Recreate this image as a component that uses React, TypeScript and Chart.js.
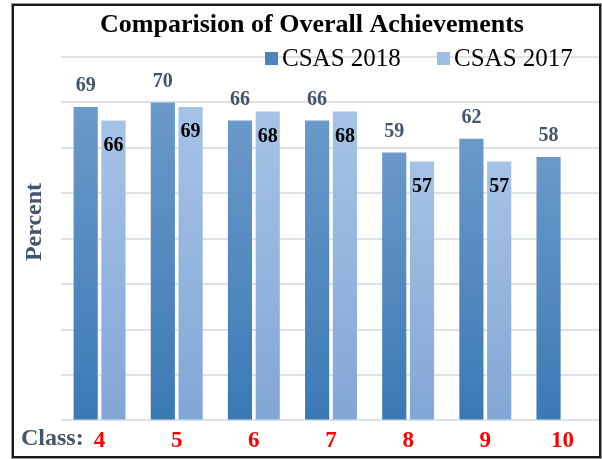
import React, { useEffect, useRef } from "react";
import { Chart, registerables } from "chart.js";

Chart.register(...registerables);

const categories = ["4", "5", "6", "7", "8", "9", "10"];
const csas2018 = [69, 70, 66, 66, 59, 62, 58];
const csas2017: (number | null)[] = [66, 69, 68, 68, 57, 57, null];
const seriesNames = ["CSAS 2018", "CSAS 2017"];
const titleText = "Comparision of Overall Achievements";
const yTitle = "Percent";
const xPrefix = "Class:";

const SERIF = "'Liberation Serif', 'Times New Roman', serif";
const SLATE = "#44546A";

function barGradient(top: string, bottom: string) {
  return (ctx: any) => {
    const chart = ctx.chart;
    const area = chart.chartArea;
    if (!area || ctx.raw == null) return bottom;
    const ys = chart.scales.y;
    const y0 = ys.getPixelForValue(ctx.raw);
    const y1 = ys.getPixelForValue(0);
    const g = chart.ctx.createLinearGradient(0, y0, 0, y1);
    g.addColorStop(0, top);
    g.addColorStop(1, bottom);
    return g;
  };
}

const decorPlugin = {
  id: "decor",
  afterDatasetsDraw(chart: any) {
    const c = chart.ctx;
    c.save();
    c.textAlign = "center";
    c.textBaseline = "middle";
    chart.data.datasets.forEach((ds: any, di: number) => {
      const meta = chart.getDatasetMeta(di);
      meta.data.forEach((el: any, i: number) => {
        const v = ds.data[i];
        if (v == null) return;
        c.font = `bold 20px ${SERIF}`;
        if (di === 0) {
          c.fillStyle = SLATE;
          c.fillText(String(v), el.x, el.y - 21);
        } else {
          c.fillStyle = "#000000";
          c.fillText(String(v), el.x, el.y + 25);
        }
      });
    });
    c.restore();
  },
  afterDraw(chart: any) {
    const c = chart.ctx;
    c.save();
    // title
    c.textAlign = "center";
    c.textBaseline = "middle";
    c.fillStyle = "#000000";
    c.font = `bold 26px ${SERIF}`;
    c.fillText(titleText, 312, 25);
    // legend
    c.textAlign = "left";
    c.font = `25px ${SERIF}`;
    const legendCols = ["#4D86BF", "#9EBEE4"];
    const legendX = [265, 437];
    seriesNames.forEach((n, i) => {
      c.fillStyle = legendCols[i];
      c.fillRect(legendX[i], 52, 13, 13);
      c.fillStyle = "#000000";
      c.fillText(n, legendX[i] + 17, 59);
    });
    // y title
    c.save();
    c.translate(35, 222);
    c.rotate(-Math.PI / 2);
    c.textAlign = "center";
    c.fillStyle = SLATE;
    c.font = `bold 24px ${SERIF}`;
    c.fillText(yTitle, 0, 0);
    c.restore();
    // Class: prefix
    c.textAlign = "left";
    c.fillStyle = SLATE;
    c.font = `bold 24px ${SERIF}`;
    c.fillText(xPrefix, 21, 439);
    // frame
    c.strokeStyle = "#9a9a9a";
    c.lineWidth = 1;
    c.strokeRect(11.5, 3.5, 590, 455);
    c.strokeStyle = "#1a1a1a";
    c.lineWidth = 2;
    c.strokeRect(13, 5, 587, 452);
    c.restore();
  },
};

export default function App() {
  const ref = useRef<HTMLCanvasElement>(null);
  useEffect(() => {
    document.body.style.margin = "0";
    const chart = new Chart(ref.current as HTMLCanvasElement, {
      type: "bar",
      data: {
        labels: categories,
        datasets: [
          {
            label: seriesNames[0],
            data: csas2018,
            backgroundColor: barGradient("#6B99C9", "#3B79B4"),
            categoryPercentage: 0.72,
            barPercentage: 0.87,
          },
          {
            label: seriesNames[1],
            data: csas2017,
            backgroundColor: barGradient("#A5C3E7", "#82A6D5"),
            categoryPercentage: 0.72,
            barPercentage: 0.87,
          },
        ],
      },
      options: {
        responsive: false,
        animation: false,
        layout: { padding: { left: 61, right: 1, top: 57, bottom: -3 } },
        plugins: {
          legend: { display: false },
          title: { display: false },
          tooltip: { enabled: false },
        },
        scales: {
          x: {
            grid: { display: false, drawTicks: false },
            border: { display: false },
            ticks: {
              color: "#FF0000",
              font: { family: SERIF, size: 23, weight: "bold", lineHeight: 1.2 },
              padding: 7,
            },
          },
          y: {
            min: 0,
            max: 80,
            ticks: { display: false, stepSize: 10 },
            grid: { color: "#DDE2E9", lineWidth: 2, drawTicks: false },
            border: { display: false },
          },
        },
      },
      plugins: [decorPlugin],
    });
    return () => chart.destroy();
  }, []);
  return <canvas ref={ref} width={602} height={459} style={{ display: "block" }} />;
}
